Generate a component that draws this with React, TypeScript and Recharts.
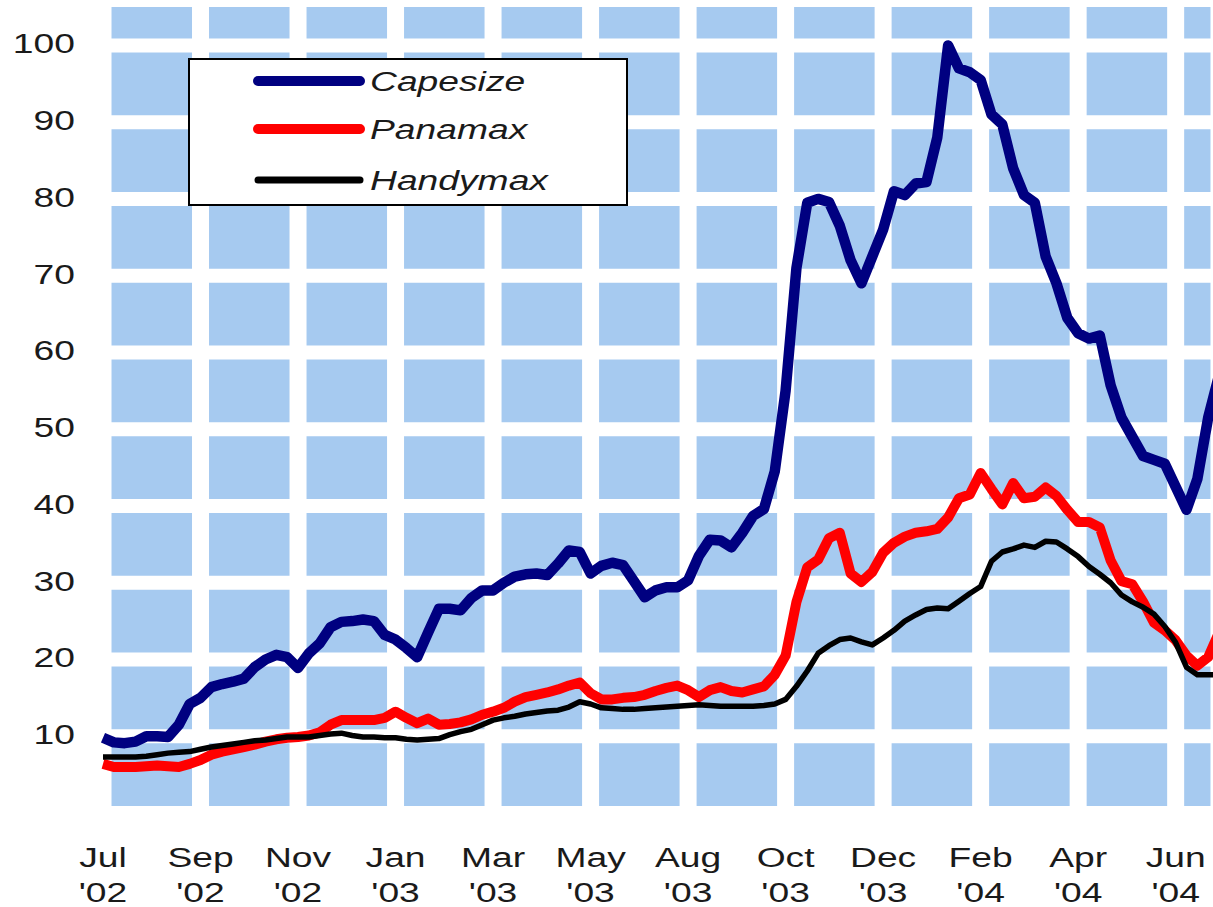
import React from 'react';
import { LineChart, Line, XAxis, YAxis, CartesianGrid, Legend } from 'recharts';

// weekly freight index readings, Jul 2002 - Jun 2004
const capesize = [
  9.8, 9.2, 9.1, 9.3, 10.0, 10.0, 9.9, 11.5, 14.2, 15.0,
  16.4, 16.8, 17.1, 17.5, 19.0, 20.0, 20.6, 20.3, 18.9, 20.8,
  22.1, 24.2, 24.9, 25.0, 25.2, 25.0, 23.2, 22.6, 21.5, 20.3,
  23.5, 26.6, 26.6, 26.4, 28.0, 29.0, 29.0, 30.0, 30.8, 31.1,
  31.2, 31.0, 32.5, 34.2, 34.0, 31.2, 32.2, 32.6, 32.3, 30.2,
  28.1, 29.0, 29.4, 29.4, 30.3, 33.5, 35.6, 35.5, 34.6, 36.5,
  38.7, 39.6, 44.5, 55.0, 71.0, 79.5, 80.0, 79.6, 76.5, 72.0,
  69.0, 72.5, 76.0, 81.0, 80.5, 82.0, 82.2, 88.0, 100.0, 97.0,
  96.5, 95.5, 91.0, 89.7, 84.0, 80.5, 79.5, 72.5, 69.0, 64.5,
  62.5, 61.8, 62.2, 55.7, 51.5, 49.0, 46.5, 46.0, 45.5, 42.5,
  39.5, 43.5, 51.5, 57.0,
];

const panamax = [
  6.4, 6.0, 6.0, 6.0, 6.1, 6.2, 6.1, 6.0, 6.4, 6.9,
  7.6, 8.0, 8.3, 8.6, 8.9, 9.3, 9.6, 9.8, 9.9, 10.1,
  10.5, 11.5, 12.1, 12.1, 12.1, 12.1, 12.4, 13.2, 12.4, 11.7,
  12.3, 11.5, 11.6, 11.8, 12.2, 12.8, 13.2, 13.7, 14.5, 15.1,
  15.4, 15.7, 16.1, 16.6, 17.0, 15.6, 14.8, 14.8, 15.0, 15.1,
  15.4, 15.9, 16.3, 16.6, 16.0, 15.1, 16.0, 16.4, 15.9, 15.7,
  16.1, 16.5, 18.0, 20.5, 27.5, 32.0, 33.0, 35.8, 36.5, 31.2,
  30.1, 31.4, 33.9, 35.2, 36.0, 36.5, 36.7, 37.0, 38.5, 41.0,
  41.5, 44.3, 42.2, 40.2, 43.0, 41.0, 41.2, 42.4, 41.3, 39.5,
  37.9, 37.9, 37.2, 32.9, 30.2, 29.8, 27.5, 24.8, 23.8, 22.5,
  20.5, 19.2, 20.3, 23.5,
];

const handymax = [
  7.3, 7.3, 7.3, 7.3, 7.4, 7.6, 7.8, 7.9, 8.0, 8.3,
  8.6, 8.8, 9.0, 9.2, 9.4, 9.5, 9.7, 9.9, 9.9, 9.9,
  10.1, 10.3, 10.4, 10.1, 9.9, 9.9, 9.8, 9.8, 9.6, 9.5,
  9.6, 9.7, 10.2, 10.6, 10.9, 11.5, 12.1, 12.4, 12.6, 12.9,
  13.1, 13.3, 13.4, 13.8, 14.5, 14.2, 13.7, 13.6, 13.5, 13.5,
  13.6, 13.7, 13.8, 13.9, 14.0, 14.1, 14.0, 13.9, 13.9, 13.9,
  13.9, 14.0, 14.2, 14.8, 16.5, 18.5, 20.8, 21.8, 22.6, 22.8,
  22.3, 21.9, 22.8, 23.8, 25.0, 25.8, 26.5, 26.7, 26.6, 27.6,
  28.6, 29.5, 32.8, 34.0, 34.4, 34.9, 34.6, 35.4, 35.3, 34.4,
  33.4, 32.1, 31.1, 30.0, 28.4, 27.5, 26.8, 25.9, 24.3, 22.2,
  19.0, 18.0, 18.0, 18.0,
];

const seriesNames = ['Capesize', 'Panamax', 'Handymax'];
const tickMonths = ['Jul', 'Sep', 'Nov', 'Jan', 'Mar', 'May', 'Aug', 'Oct', 'Dec', 'Feb', 'Apr', 'Jun'];
const tickYears = ["'02", "'02", "'02", "'03", "'03", "'03", "'03", "'03", "'03", "'04", "'04", "'04"];
const yTicks = [0, 10, 20, 30, 40, 50, 60, 70, 80, 90, 100];

const data = capesize.map((v, i) => ({
  i,
  capesize: v,
  panamax: panamax[i],
  handymax: handymax[i],
}));

const xTicks = tickMonths.map((_, k) => k * 9);

const FONT = '"Liberation Sans", Arial, sans-serif';
const STRETCH = 1.33;
const TEXT = '#1a1a1a';

const XTick = (props: any) => {
  const { x, y, payload } = props;
  const k = Math.round(payload.value / 9);
  return (
    <g transform={`translate(${x},${y}) scale(${STRETCH},1)`}>
      <text x={0} y={54} textAnchor="middle" fontSize={28} fontFamily={FONT} fill={TEXT}>
        {tickMonths[k]}
      </text>
      <text x={0} y={89} textAnchor="middle" fontSize={28} fontFamily={FONT} fill={TEXT}>
        {tickYears[k]}
      </text>
    </g>
  );
};

const YTick = (props: any) => {
  const { x, y, payload } = props;
  if (payload.value === 0) return null;
  return (
    <g transform={`translate(${x - 28},${y}) scale(${STRETCH},1)`}>
      <text x={0} y={8} textAnchor="end" fontSize={28} fontFamily={FONT} fill={TEXT}>
        {payload.value}
      </text>
    </g>
  );
};

// thick white grid lines; skip the one recharts puts on the top edge of the plot
const hLine = (p: any) =>
  p.y1 < 20 ? (
    <g key={`h-${p.index}-${p.y1}`} />
  ) : (
    <line key={`h-${p.index}-${p.y1}`} x1={p.x1} y1={p.y1} x2={p.x2} y2={p.y2} stroke="#fff" strokeWidth={14} />
  );
const vLine = (p: any) => (
  <line key={`v-${p.index}-${p.x1}`} x1={p.x1} y1={p.y1} x2={p.x2} y2={p.y2} stroke="#fff" strokeWidth={17} />
);

const BoxLegend = (props: any) => {
  const items = seriesNames
    .map((n) => (props.payload || []).find((p: any) => p.value === n))
    .filter(Boolean);
  const rows = [23, 71, 122];
  return (
    <svg width={441} height={149}>
      <rect x={1} y={1} width={438} height={146} fill="#fff" stroke="#000" strokeWidth={2} />
      {items.map((p: any, idx: number) => (
        <g key={p.value}>
          <line
            x1={70}
            x2={172}
            y1={rows[idx]}
            y2={rows[idx]}
            stroke={p.color}
            strokeWidth={idx === 2 ? 7 : 10}
            strokeLinecap="round"
          />
          <g transform={`translate(182,${rows[idx] + 10}) scale(${STRETCH},1)`}>
            <text fontSize={28} fontStyle="italic" fontFamily={FONT} fill={TEXT}>
              {p.value}
            </text>
          </g>
        </g>
      ))}
    </svg>
  );
};

export default function App() {
  return (
    <div
      style={{
        position: 'fixed',
        left: 0,
        top: 0,
        width: 1213,
        height: 907,
        overflow: 'hidden',
        background: '#fff',
      }}
    >
      <LineChart
        width={1219}
        height={907}
        data={data}
        margin={{ top: 7, right: 0, bottom: 0, left: 8 }}
      >
        <CartesianGrid fill="#A6CAF0" stroke="#fff" horizontal={hLine} vertical={vLine} />
        <XAxis
          dataKey="i"
          type="number"
          domain={[0, 103]}
          ticks={xTicks}
          interval={0}
          axisLine={false}
          tickLine={false}
          tickSize={0}
          tickMargin={0}
          height={94}
          tick={<XTick />}
        />
        <YAxis
          type="number"
          domain={[0, 105]}
          ticks={yTicks}
          interval={0}
          axisLine={false}
          tickLine={false}
          tickSize={0}
          tickMargin={0}
          width={95}
          tick={<YTick />}
        />
        <Legend
          layout="horizontal"
          verticalAlign="middle"
          align="center"
          content={<BoxLegend />}
          wrapperStyle={{ position: 'absolute', left: 188, top: 58, width: 441, height: 149 }}
        />
        <Line
          type="linear"
          dataKey="capesize"
          name="Capesize"
          stroke="#000080"
          strokeWidth={10.5}
          strokeLinejoin="round"
          dot={false}
          isAnimationActive={false}
        />
        <Line
          type="linear"
          dataKey="panamax"
          name="Panamax"
          stroke="#FF0000"
          strokeWidth={10}
          strokeLinejoin="round"
          dot={false}
          isAnimationActive={false}
        />
        <Line
          type="linear"
          dataKey="handymax"
          name="Handymax"
          stroke="#000000"
          strokeWidth={5.5}
          strokeLinejoin="round"
          dot={false}
          isAnimationActive={false}
        />
      </LineChart>
    </div>
  );
}
